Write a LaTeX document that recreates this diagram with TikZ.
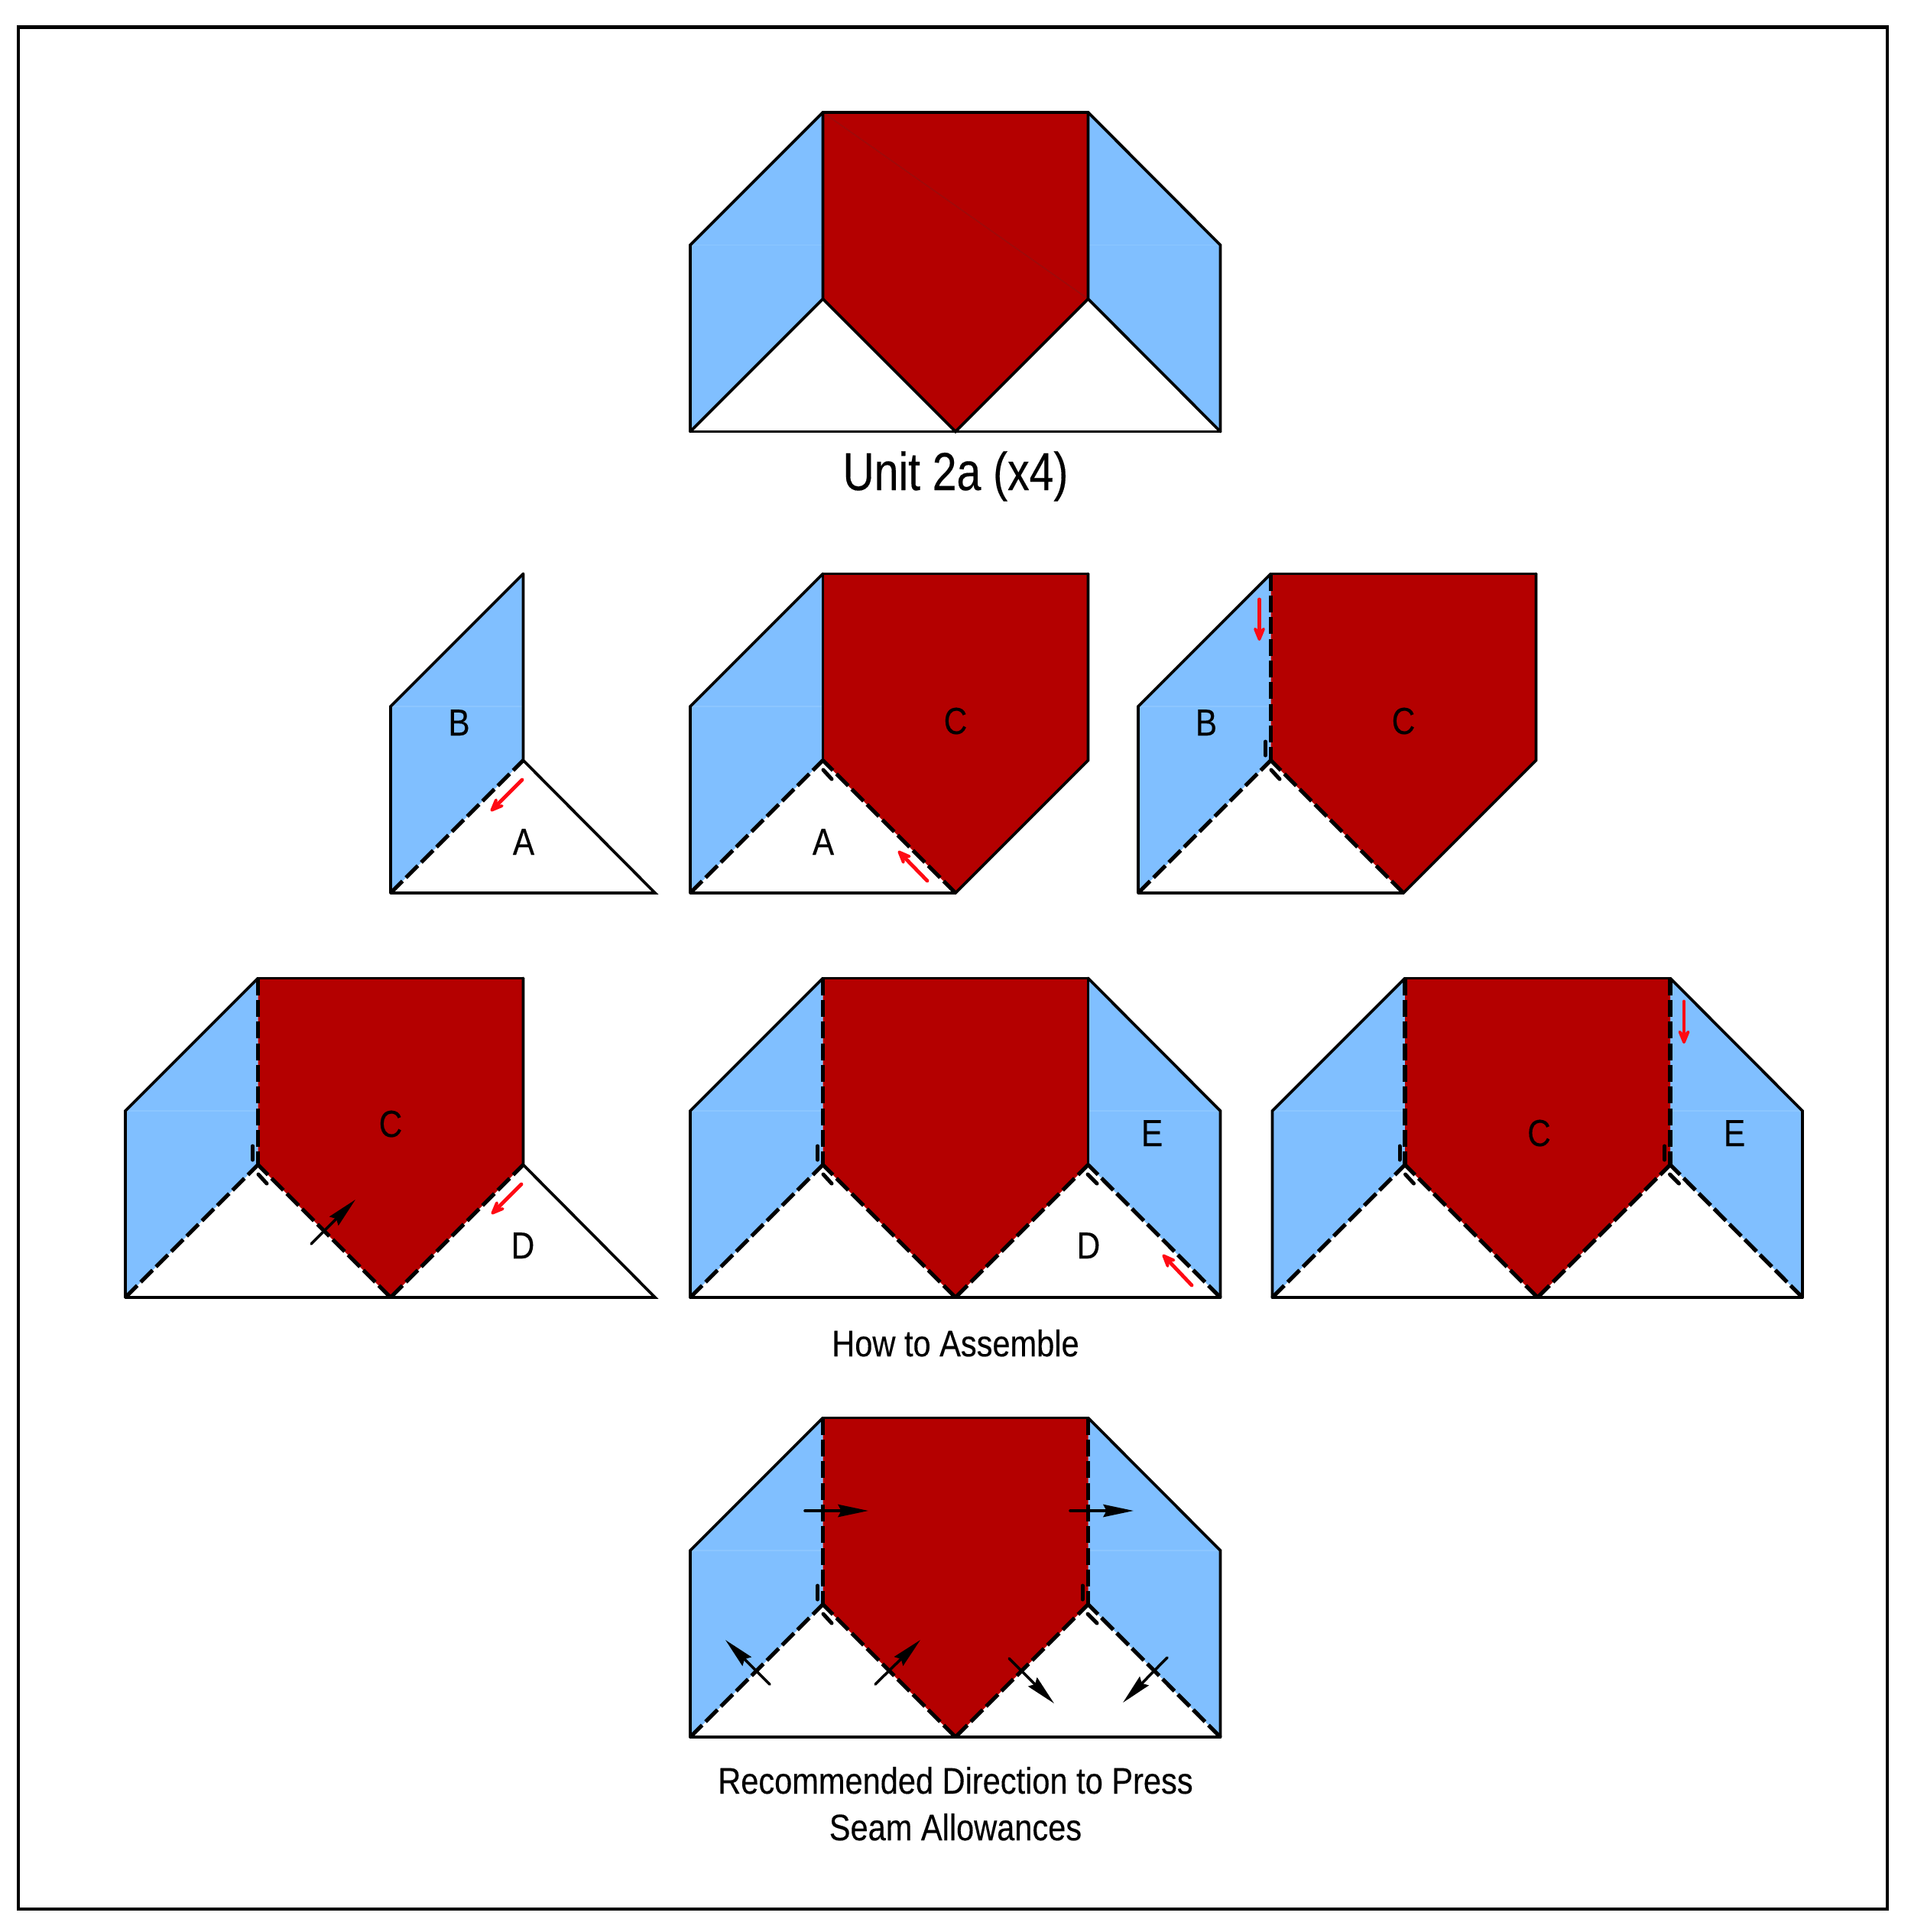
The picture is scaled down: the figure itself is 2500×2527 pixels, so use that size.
\documentclass[tikz,border=0pt]{standalone}
\usepackage{fontspec}
\setmainfont[FakeStretch=0.86,FakeBold=0.25]{Liberation Sans}
\newfontfamily\titlefamily[FakeStretch=0.815,FakeBold=0.25]{Liberation Sans}
\usetikzlibrary{arrows.meta}
\definecolor{quiltblue}{HTML}{80BFFF}
\definecolor{quiltblueseam}{HTML}{8CC6FF}
\definecolor{quiltred}{HTML}{B40000}
\definecolor{quiltredseam}{HTML}{9E0A0A}
\definecolor{arrowred}{HTML}{FF0A14}
\tikzset{
  framebox/.style={draw=black,line width=1.1pt},
  bluepatch/.style={fill=quiltblue},
  redpatch/.style={fill=quiltred},
  edgeline/.style={draw=black,line width=0.9pt,line join=miter,line cap=round},
  seamline/.style={draw=black,line width=1.25pt,dash pattern=on 5.3pt off 1.5pt},
  tickline/.style={draw=black,line width=1.2pt,line cap=round},
  faintblue/.style={draw=quiltblueseam,line width=0.3pt},
  faintred/.style={draw=quiltredseam,line width=0.4pt},
  redarrow/.style={draw=arrowred,line width=1.15pt,line cap=round,-{Stealth[length=6.6pt,width=5.4pt,inset=3pt,round]}},
  blackarrow/.style={draw=black,line width=0.85pt,line cap=round,-{Stealth[length=9.5pt,width=3.9pt,inset=1pt]}},
  labeltext/.style={inner sep=0pt,anchor=base,font=\fontsize{11.8pt}{14pt}\selectfont},
  captiontext/.style={inner sep=0pt,anchor=base,font=\fontsize{11.6pt}{14pt}\selectfont},
  titletext/.style={inner sep=0pt,anchor=base,font=\titlefamily\fontsize{16.8pt}{19pt}\selectfont},
}
% all panel coordinates are relative to the bottom tip of the red piece
\newcommand{\BlueLeft}{%
  \fill[bluepatch] (-347,0) -- (-347,-244) -- (-173.5,-417.5) -- (-173.5,-173.5) -- cycle;
  \draw[faintblue] (-347,-244) -- (-173.5,-244);}
\newcommand{\BlueRight}{%
  \fill[bluepatch] (346.5,0) -- (346.5,-244) -- (173.5,-417.5) -- (173.5,-173.5) -- cycle;
  \draw[faintblue] (346.5,-244) -- (173.5,-244);}
\newcommand{\RedPiece}{%
  \fill[redpatch] (-173.5,-417.5) -- (173.5,-417.5) -- (173.5,-173.5) -- (0,0) -- (-173.5,-173.5) -- cycle;}
\newcommand{\OuterLeft}{\draw[edgeline] (-173.5,-417.5) -- (-347,-244) -- (-347,0);}
\newcommand{\OuterRight}{\draw[edgeline] (173.5,-417.5) -- (346.5,-244) -- (346.5,0);}
\newcommand{\RedTop}{\draw[edgeline] (-173.5,-417.5) -- (173.5,-417.5);}
\newcommand{\TickVL}{\draw[tickline] (-180.5,-198) -- (-180.5,-180);}
\newcommand{\TickDL}{\draw[tickline] (-173,-161) -- (-162,-149);}
\newcommand{\TickVR}{\draw[tickline] (166,-198) -- (166,-180);}
\newcommand{\TickDR}{\draw[tickline] (173,-161) -- (185,-149);}

\begin{document}
\begin{tikzpicture}[x=0.24pt,y=-0.24pt]
\useasboundingbox (0,0) rectangle (2500,2527);
\fill[white] (0,0) rectangle (2500,2527);
\draw[framebox] (24,35.5) rectangle (2469,2497);

% ---------- Unit 2a
\begin{scope}[shift={(1250,564.5)}]
  \BlueLeft \BlueRight \RedPiece
  \draw[faintred] (-173.5,-417.5) -- (173.5,-173.5);
  \OuterLeft \OuterRight \RedTop
  \draw[edgeline] (-347,0) -- (346.5,0);
  \draw[edgeline] (-173.5,-417.5) -- (-173.5,-173.5) -- (-347,0);
  \draw[edgeline] (173.5,-417.5) -- (173.5,-173.5) -- (346.5,0);
  \draw[edgeline] (-173.5,-173.5) -- (0,0) -- (173.5,-173.5);
\end{scope}
\node[titletext] (title) at (1250,641) {Unit 2a (x4)};

% ---------- Row 2, left
\begin{scope}[shift={(858,1168)}]
  \BlueLeft
  \OuterLeft
  \draw[edgeline] (-347,0) -- (-1,0) -- (-173.5,-173.5) -- (-173.5,-417.5);
  \draw[seamline] (-347,0) -- (-173.5,-173.5);
\end{scope}
\draw[redarrow] (683,1020) -- (642,1061);
\node[labeltext] (r2lB) at (600.5,962) {B};
\node[labeltext] (r2lA) at (685,1118) {A};

% ---------- Row 2, middle
\begin{scope}[shift={(1250,1168)}]
  \BlueLeft \RedPiece
  \OuterLeft \RedTop
  \draw[edgeline] (-347,0) -- (0,0) -- (173.5,-173.5) -- (173.5,-417.5);
  \draw[edgeline] (-173.5,-417.5) -- (-173.5,-173.5);
  \draw[seamline] (-347,0) -- (-173.5,-173.5);
  \draw[seamline] (0,0) -- (-173.5,-173.5);
  \TickDL
\end{scope}
\draw[redarrow] (1213,1152) -- (1175,1113);
\node[labeltext] (r2mA) at (1077,1118) {A};
\node[labeltext] (r2mC) at (1250,960) {C};

% ---------- Row 2, right
\begin{scope}[shift={(1836,1168)}]
  \BlueLeft \RedPiece
  \OuterLeft \RedTop
  \draw[edgeline] (-347,0) -- (0,0) -- (173.5,-173.5) -- (173.5,-417.5);
  \draw[seamline] (-173.5,-417.5) -- (-173.5,-173.5);
  \draw[seamline] (-347,0) -- (-173.5,-173.5);
  \draw[seamline] (0,0) -- (-173.5,-173.5);
  \TickVL \TickDL
\end{scope}
\draw[redarrow] (1647.5,784) -- (1647.5,838);
\node[labeltext] (r2rB) at (1578,962) {B};
\node[labeltext] (r2rC) at (1836,960) {C};

% ---------- Row 3, left
\begin{scope}[shift={(511,1697)}]
  \BlueLeft \RedPiece
  \OuterLeft \RedTop
  \draw[edgeline] (-347,0) -- (346,0) -- (173.5,-173.5) -- (173.5,-417.5);
  \draw[seamline] (-173.5,-417.5) -- (-173.5,-173.5);
  \draw[seamline] (-347,0) -- (-173.5,-173.5);
  \draw[seamline] (0,0) -- (-173.5,-173.5);
  \draw[seamline] (0,0) -- (173.5,-173.5);
  \TickVL \TickDL
\end{scope}
\draw[blackarrow] (407,1627) -- (465,1569);
\draw[redarrow] (682,1549) -- (643,1588);
\node[labeltext] (r3lC) at (511,1487) {C};
\node[labeltext] (r3lD) at (684,1646) {D};

% ---------- Row 3, middle
\begin{scope}[shift={(1250,1697)}]
  \BlueLeft \BlueRight \RedPiece
  \OuterLeft \OuterRight \RedTop
  \draw[edgeline] (-347,0) -- (346.5,0);
  \draw[edgeline] (173.5,-417.5) -- (173.5,-173.5);
  \draw[seamline] (-173.5,-417.5) -- (-173.5,-173.5);
  \draw[seamline] (-347,0) -- (-173.5,-173.5);
  \draw[seamline] (0,0) -- (-173.5,-173.5);
  \draw[seamline] (0,0) -- (173.5,-173.5);
  \draw[seamline] (346.5,0) -- (173.5,-173.5);
  \TickVL \TickDL \TickDR
\end{scope}
\draw[redarrow] (1559,1681) -- (1521,1641);
\node[labeltext] (r3mE) at (1507,1499) {E};
\node[labeltext] (r3mD) at (1424,1646) {D};
\node[captiontext] (howto) at (1250,1774) {How to Assemble};

% ---------- Row 3, right
\begin{scope}[shift={(2011.5,1697)}]
  \BlueLeft \BlueRight \RedPiece
  \OuterLeft \OuterRight \RedTop
  \draw[edgeline] (-347,0) -- (346.5,0);
  \draw[seamline] (-173.5,-417.5) -- (-173.5,-173.5);
  \draw[seamline] (173.5,-417.5) -- (173.5,-173.5);
  \draw[seamline] (-347,0) -- (-173.5,-173.5);
  \draw[seamline] (0,0) -- (-173.5,-173.5);
  \draw[seamline] (0,0) -- (173.5,-173.5);
  \draw[seamline] (346.5,0) -- (173.5,-173.5);
  \TickVL \TickDL \TickVR \TickDR
\end{scope}
\draw[redarrow] (2203,1310) -- (2203,1365);
\node[labeltext] (r3rC) at (2013.5,1499) {C};
\node[labeltext] (r3rE) at (2269,1499) {E};

% ---------- Row 4
\begin{scope}[shift={(1250,2272)}]
  \BlueLeft \BlueRight \RedPiece
  \OuterLeft \OuterRight \RedTop
  \draw[edgeline] (-347,0) -- (346.5,0);
  \draw[seamline] (-173.5,-417.5) -- (-173.5,-173.5);
  \draw[seamline] (173.5,-417.5) -- (173.5,-173.5);
  \draw[seamline] (-347,0) -- (-173.5,-173.5);
  \draw[seamline] (0,0) -- (-173.5,-173.5);
  \draw[seamline] (0,0) -- (173.5,-173.5);
  \draw[seamline] (346.5,0) -- (173.5,-173.5);
  \TickVL \TickDL \TickVR \TickDR
\end{scope}
\draw[blackarrow] (1053,1976) -- (1136,1976);
\draw[blackarrow] (1400,1976) -- (1483,1976);
\draw[blackarrow] (1007,2203) -- (949,2145);
\draw[blackarrow] (1145,2203) -- (1204,2145);
\draw[blackarrow] (1320,2169) -- (1379,2228);
\draw[blackarrow] (1527,2168) -- (1469,2227);
\node[captiontext] (press1) at (1250,2346) {Recommended Direction to Press};
\node[captiontext] (press2) at (1250,2407) {Seam Allowances};
\end{tikzpicture}
\end{document}
